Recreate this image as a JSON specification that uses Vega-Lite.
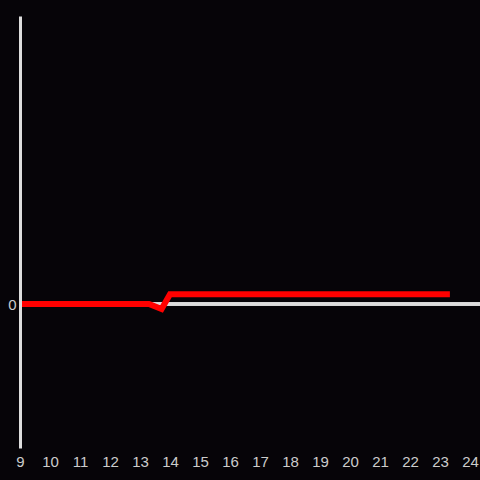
{
  "$schema": "https://vega.github.io/schema/vega-lite/v6.json",
  "width": 460,
  "height": 432,
  "autosize": "none",
  "padding": {"left": 20, "top": 16, "right": 0, "bottom": 32},
  "background": "#060408",
  "config": {"view": {"stroke": null}, "font": "Liberation Sans"},
  "data": {"values": [
    {"x": 9, "y": 0},
    {"x": 13.3, "y": 0},
    {"x": 13.72, "y": -0.035},
    {"x": 14.0, "y": 0.068},
    {"x": 23.33, "y": 0.068}
  ]},
  "layer": [
    {
      "mark": {"type": "rule", "color": "#dddddd", "strokeWidth": 3},
      "encoding": {"y": {"datum": 0, "type": "quantitative"}}
    },
    {
      "mark": {"type": "line", "color": "#ff0000", "strokeWidth": 6, "strokeJoin": "miter"},
      "encoding": {
        "x": {"field": "x", "type": "quantitative", "scale": {"domain": [9, 24.3333], "nice": false, "zero": false},
          "axis": {"values": [9,10,11,12,13,14,15,16,17,18,19,20,21,22,23,24], "format": "d", "domain": false, "ticks": false, "grid": false, "labelColor": "#cccccc", "labelFontSize": 15, "labelPadding": 6, "labelFlush": false, "title": null, "labelOverlap": false}},
        "y": {"field": "y", "type": "quantitative", "scale": {"domain": [-1, 2], "nice": false},
          "axis": {"values": [0], "format": "d", "domain": true, "domainColor": "#dddddd", "domainWidth": 3, "ticks": false, "grid": false, "labelColor": "#cccccc", "labelFontSize": 15, "labelPadding": 4, "title": null, "zindex": 1}}
      }
    }
  ]
}
